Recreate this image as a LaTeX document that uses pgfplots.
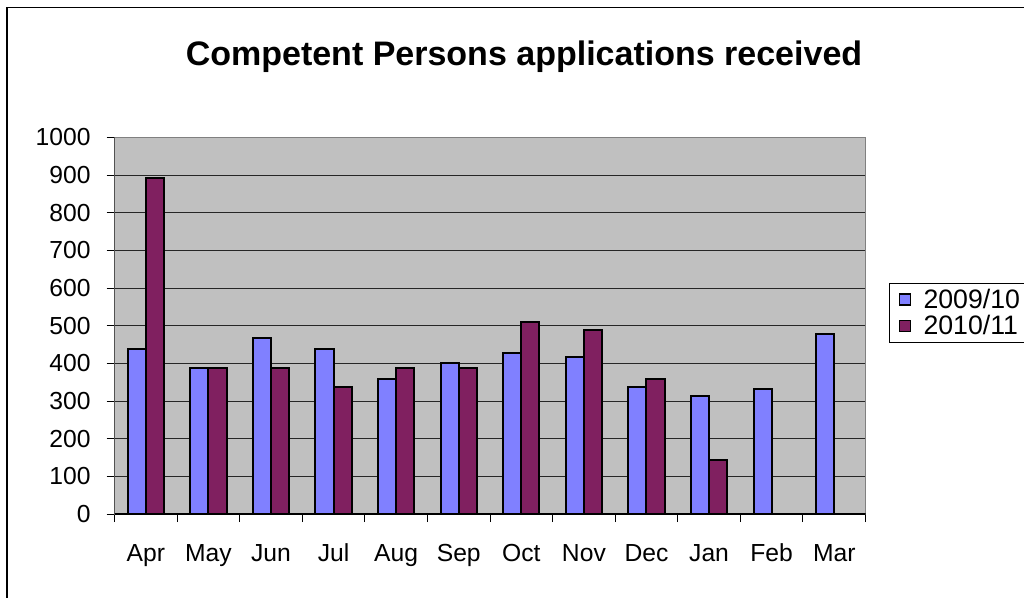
\documentclass[border=0pt]{standalone}
\usepackage{pgfplots}
\pgfplotsset{compat=1.18}
\usepackage{fontspec}
\setmainfont{Liberation Sans}
\definecolor{cblue}{RGB}{128,128,255}
\definecolor{cpurple}{RGB}{128,32,96}
\definecolor{plotbg}{RGB}{192,192,192}
\begin{document}
\begin{tikzpicture}
\fill[white] (0,0) rectangle (768pt,447.75pt);
\draw[black, line width=0.8pt] (5.25pt,-5pt) -- (5.25pt,442.1pt) -- (780pt,442.1pt);
\node[font=\fontsize{25.5}{28}\selectfont\bfseries] at (393pt,405.5pt) {Competent Persons applications received};
\begin{axis}[
  at={(85.9pt,62.25pt)}, anchor=south west,
  scale only axis, width=563.25pt, height=282.4pt,
  ybar=0pt, bar width=13.6pt,
  xmin=-0.5, xmax=11.5, ymin=0, ymax=1000,
  xtick={0,...,11},
  xticklabels={Apr,May,Jun,Jul,Aug,Sep,Oct,Nov,Dec,Jan,Feb,Mar},
  minor xtick={-0.5,0.5,...,11.5},
  ytick={0,100,...,1000},
  xtick pos=bottom, ytick pos=left,
  major x tick style={draw=none},
  tick align=outside,
  major tick length=6pt, minor tick length=6pt,
  tick style={black, line width=0.7pt},
  ymajorgrids, grid style={black!85, line width=0.7pt},
  axis background/.style={fill=plotbg},
  axis line style={draw=gray, line width=0.8pt},
  /pgf/number format/1000 sep={},
  /pgf/number format/assume math mode=true,
  ticklabel style={font=\fontsize{18.5}{20}\selectfont},
  xticklabel style={yshift=-13pt},
  yticklabel style={xshift=-8.5pt},
  legend style={at={(1.0313,0.6135)}, anchor=north west, draw=black, line width=0.6pt,
    font=\fontsize{20}{22}\selectfont, row sep=0pt, inner xsep=7pt, inner ysep=2pt},
  legend cell align=left,
  legend image code/.code={\draw[#1, draw=black, line width=1.2pt] (0pt,-4.1pt) rectangle (8.2pt,4.1pt);
    \path[draw=none, fill=none] (0pt,0pt) rectangle (16pt,0.1pt);},
]
\addplot[fill=cblue, draw=black, line width=1.5pt] coordinates {(0,438) (1,388) (2,467) (3,439) (4,359) (5,400) (6,427) (7,416) (8,337) (9,314) (10,332) (11,479)};
\addplot[fill=cpurple, draw=black, line width=1.5pt] coordinates {(0,893) (1,388) (2,388) (3,337) (4,388) (5,388) (6,510) (7,488) (8,359) (9,144)};
\legend{2009/10,2010/11}
\draw[black, line width=0.9pt] (rel axis cs:0,1) -- (rel axis cs:0,0) -- (rel axis cs:1,0);
\end{axis}
\pgfresetboundingbox
\useasboundingbox (0,0) rectangle (768pt,447.75pt);
\end{tikzpicture}
\end{document}
